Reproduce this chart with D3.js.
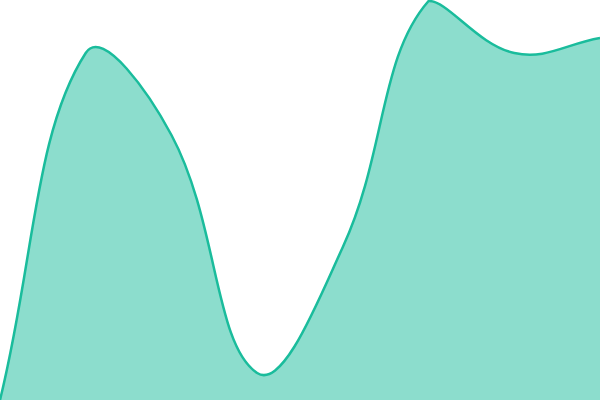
<!DOCTYPE html>
<html>
<head>
<meta charset="utf-8">
<script src="https://cdn.jsdelivr.net/npm/d3@7"></script>
<style>
  body { margin: 0; background: #fff; }
  svg { display: block; }
</style>
</head>
<body>
<svg id="chart" width="600" height="400"></svg>
<script>
// data
const labels = ["A", "B", "C", "D", "E", "F", "G", "H"];
const values = [0, 86.75, 66.25, 6.75, 38.25, 99.75, 86.75, 90.5];

const svg = d3.select("svg#chart"),
    width = +svg.attr("width"),
    height = +svg.attr("height");

const x = d3.scalePoint()
    .domain(labels)
    .range([0, width]);

const y = d3.scaleLinear()
    .domain([0, 100])
    .range([height, 0]);

const data = labels.map((l, i) => ({label: l, value: values[i]}));

// spline with distance weighted tension, control points kept inside the plot
function splineCurve(tension) {
    return function(context) {
        let pts, line;
        const clamp = (v, lo, hi) => Math.max(lo, Math.min(hi, v));
        return {
            areaStart() { line = 0; },
            areaEnd() { line = NaN; },
            lineStart() { pts = []; },
            point(px, py) { pts.push([+px, +py]); },
            lineEnd() {
                const n = pts.length;
                if (n) {
                    line ? context.lineTo(pts[0][0], pts[0][1]) : context.moveTo(pts[0][0], pts[0][1]);
                    const cps = pts.map((p, i) => {
                        const prev = pts[i - 1] || p, next = pts[i + 1] || p;
                        const d01 = Math.hypot(p[0] - prev[0], p[1] - prev[1]);
                        const d12 = Math.hypot(next[0] - p[0], next[1] - p[1]);
                        let s01 = d01 / (d01 + d12), s12 = d12 / (d01 + d12);
                        if (isNaN(s01)) s01 = 0;
                        if (isNaN(s12)) s12 = 0;
                        const fa = tension * s01, fb = tension * s12;
                        const dx = next[0] - prev[0], dy = next[1] - prev[1];
                        return {
                            inX: clamp(p[0] - fa * dx, 0, width), inY: clamp(p[1] - fa * dy, 0, height),
                            outX: clamp(p[0] + fb * dx, 0, width), outY: clamp(p[1] + fb * dy, 0, height)
                        };
                    });
                    for (let i = 1; i < n; i++) {
                        context.bezierCurveTo(cps[i - 1].outX, cps[i - 1].outY, cps[i].inX, cps[i].inY, pts[i][0], pts[i][1]);
                    }
                }
                if (line) context.closePath();
                line = 1 - line;
            }
        };
    };
}

const curve = splineCurve(0.4);

// filled area
svg.append("path")
    .datum(data)
    .attr("d", d3.area()
        .x(d => x(d.label))
        .y0(height)
        .y1(d => y(d.value))
        .curve(curve))
    .attr("fill", "#1abc9c")
    .attr("fill-opacity", 0.5);

// outline
svg.append("path")
    .datum(data)
    .attr("d", d3.line()
        .x(d => x(d.label))
        .y(d => y(d.value))
        .curve(curve))
    .attr("fill", "none")
    .attr("stroke", "#1abc9c")
    .attr("stroke-width", 2.5);
</script>
</body>
</html>
